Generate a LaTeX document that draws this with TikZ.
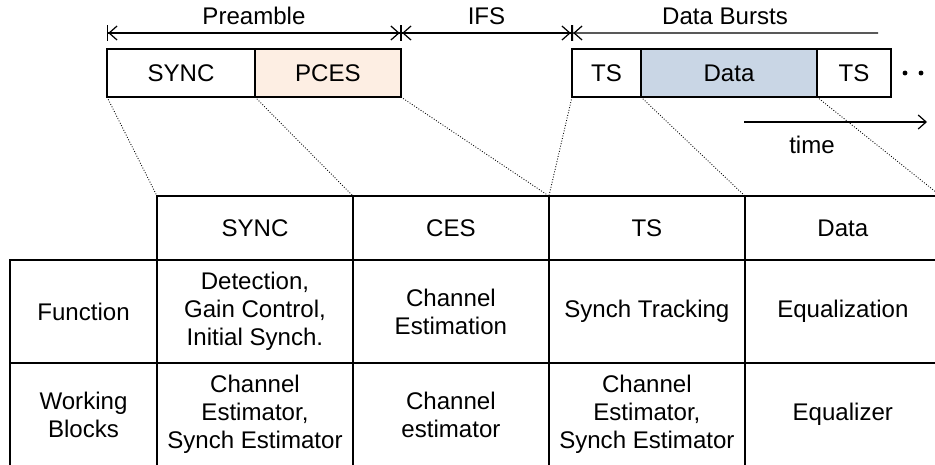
\documentclass[tikz,border=0pt]{standalone}
\usepackage{fontspec}
\setmainfont{Liberation Sans}
\usetikzlibrary{arrows.meta, positioning}
\definecolor{pcesfill}{HTML}{FDEEE3}
\definecolor{datafill}{HTML}{C9D6E5}

\begin{document}
\begin{tikzpicture}[
        x=0.02cm, y=-0.02cm,
        every node/.style={font=\fontsize{13.7}{16}\selectfont, inner sep=0pt, outer sep=0pt, align=center},
        slot/.style={draw, line width=1.1pt, minimum height=0.96cm},
        cell/.style={draw, line width=1.1pt, minimum width=3.92cm},
        span/.style={line width=0.7pt, {Bar[width=9pt]Straight Barb[length=4.5pt,width=8pt]}-{Straight Barb[length=4.5pt,width=8pt]Bar[width=9pt]}},
        zoomline/.style={densely dotted, line width=0.5pt}
    ]
        \clip (0,0) rectangle (935,464);

        % Khung truyền
        \node[slot, anchor=north west, minimum width=2.96cm] (sync) at (107,49) {SYNC};
        \node[slot, minimum width=2.92cm, fill=pcesfill, right=0pt of sync] (pces) {PCES};
        \node[slot, anchor=north west, minimum width=1.38cm] (ts1) at (572,49) {TS};
        \node[slot, minimum width=3.52cm, fill=datafill, right=0pt of ts1] (data) {Data};
        \node[slot, minimum width=1.48cm, right=0pt of data] (ts2) {TS};
        \fill (905,73) circle (1.4pt) (921,73) circle (1.4pt);

        % Các mũi tên độ dài
        \coordinate (p0) at ([yshift=0.32cm]sync.north west);
        \coordinate (p1) at ([yshift=0.32cm]pces.north east);
        \coordinate (p2) at ([yshift=0.32cm]ts1.north west);
        \coordinate (p3) at (878,33);
        \draw[span] (p0) -- node[above=4.5pt] (preamble) {Preamble} (p1);
        \draw[span] (p1) -- node[above=4.5pt] (ifs) {IFS} (p2);
        \draw[line width=0.7pt, {Bar[width=9pt]Straight Barb[length=4.5pt,width=8pt]}-] (p2) -- node[above=4.5pt] (bursts) {Data Bursts} (p3);

        % Trục thời gian
        \coordinate (t0) at (744,122);
        \coordinate (t1) at (927,122);
        \draw[line width=0.7pt, -{Straight Barb[length=4.5pt,width=8pt]}] (t0) -- (t1);
        \node (time) at (812,145) {time};

        % Bảng
        \node[cell, anchor=north west, minimum height=1.28cm] (hsync) at (157,196) {SYNC};
        \node[cell, minimum height=1.28cm, right=0pt of hsync] (hces) {CES};
        \node[cell, minimum height=1.28cm, right=0pt of hces] (hts) {TS};
        \node[cell, minimum height=1.28cm, right=0pt of hts] (hdata) {Data};

        \node[cell, anchor=north west, minimum width=2.94cm, minimum height=2.06cm] (func) at (10,260) {Function};
        \node[cell, minimum height=2.06cm, right=0pt of func] (fsync) {Detection,\\Gain Control,\\Initial Synch.};
        \node[cell, minimum height=2.06cm, right=0pt of fsync] (fces) {Channel\\Estimation};
        \node[cell, minimum height=2.06cm, right=0pt of fces] (fts) {Synch Tracking};
        \node[cell, minimum height=2.06cm, right=0pt of fts] (fdata) {Equalization};

        \node[cell, anchor=north west, minimum width=2.94cm, minimum height=2.06cm] (work) at (10,363) {Working\\Blocks};
        \node[cell, minimum height=2.06cm, right=0pt of work] (wsync) {Channel\\Estimator,\\Synch Estimator};
        \node[cell, minimum height=2.06cm, right=0pt of wsync] (wces) {Channel\\estimator};
        \node[cell, minimum height=2.06cm, right=0pt of wces] (wts) {Channel\\Estimator,\\Synch Estimator};
        \node[cell, minimum height=2.06cm, right=0pt of wts] (wdata) {Equalizer};

        % Các đường chấm nối
        \draw[zoomline] (sync.south west) -- (hsync.north west);
        \draw[zoomline] (pces.south west) -- (hces.north west);
        \draw[zoomline] (pces.south east) -- (hts.north west);
        \draw[zoomline] (ts1.south west) -- (hts.north west);
        \draw[zoomline] (data.south west) -- (hdata.north west);
        \draw[zoomline] (ts2.south west) -- (hdata.north east);
    \end{tikzpicture}
\end{document}
